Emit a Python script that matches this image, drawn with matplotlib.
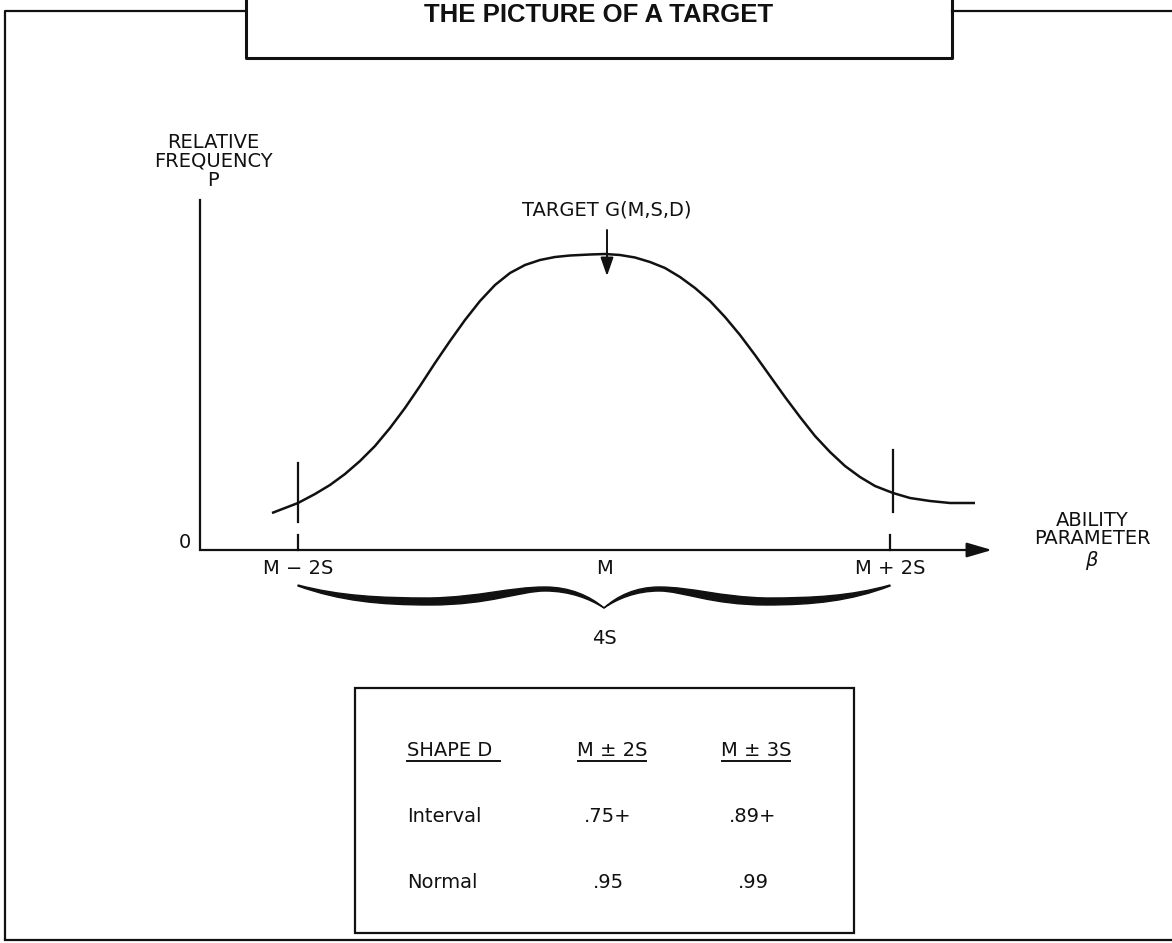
import matplotlib
matplotlib.use("Agg")
import matplotlib.pyplot as plt
from matplotlib.path import Path
from matplotlib.patches import PathPatch, Rectangle

# Curve of the target (page pixel coordinates)
curve_x = [272, 285, 298, 315, 330, 345, 360, 375, 390, 405, 420, 435, 450, 465,
           480, 495, 510, 525, 540, 555, 570, 590, 605, 620, 635, 650, 665, 680,
           695, 710, 725, 740, 755, 770, 785, 800, 815, 830, 845, 860, 875, 893,
           910, 930, 950, 975]
curve_y = [513, 508, 503, 494, 485, 474, 461, 446, 428, 408, 386, 363, 341, 320,
           301, 285, 273, 265, 260, 257, 255.5, 254.5, 254, 255, 257.5, 262, 268, 277,
           288, 301, 317, 335, 355, 376, 397, 417, 436, 452, 466, 477, 486, 493,
           498, 501, 503, 503]

# axis ticks
tick_x = [298, 605, 890]
tick_labels = ["M \u2212 2S", "M", "M + 2S"]
marker_x = [298, 893]          # tall marks crossing the curve at M +/- 2S

# table
table_cols = ["SHAPE D", "M \u00b1 2S", "M \u00b1 3S"]
table_rows = ["Interval", "Normal"]
within_2s = [".75+", ".95"]
within_3s = [".89+", ".99"]

W, H = 1172, 943
fig = plt.figure(figsize=(W / 100, H / 100), dpi=100)
ax = fig.add_axes([0, 0, 1, 1])
ax.set_xlim(0, W)
ax.set_ylim(H, 0)
ax.axis("off")

ink = "#111111"
font = "DejaVu Sans"
fs = 14

# page frame and title box
ax.plot([5, 5, 246], [940, 11, 11], color=ink, lw=1.6, solid_capstyle="butt")
ax.plot([952, W], [11, 11], color=ink, lw=1.6)
ax.plot([5, W], [940, 940], color=ink, lw=1.6)
ax.plot([246, 246, 952, 952], [0, 58, 58, 0], color=ink, lw=2.2)
ax.text(599, 22, "THE PICTURE OF A TARGET", ha="center", va="baseline",
        fontsize=18.5, fontweight="bold", family="Liberation Sans", color=ink)

# axes of the chart
ax.plot([200, 200, 980], [200, 550, 550], color=ink, lw=1.6, solid_joinstyle="miter")
ax.annotate("", xy=(992, 550), xytext=(970, 550),
            arrowprops=dict(arrowstyle="-|>,head_length=1.1,head_width=0.32",
                            mutation_scale=14, color=ink, lw=1.6, shrinkA=0, shrinkB=0))
ax.text(185, 543, "0", ha="center", va="center", fontsize=fs, family=font, color=ink)
ax.text(213, 161, "RELATIVE\nFREQUENCY\nP", ha="center", va="center", fontsize=fs,
        family=font, color=ink, linespacing=1.0)
ax.text(1092, 541, "ABILITY\nPARAMETER\n$\\beta$", ha="center", va="center", fontsize=fs,
        family=font, color=ink, linespacing=1.0)

for x, lab in zip(tick_x, tick_labels):
    if x != 605:
        ax.plot([x, x], [535, 550], color=ink, lw=1.6)
    ax.text(x, 569, lab, ha="center", va="center", fontsize=fs, family=font, color=ink)
for x in marker_x:
    ax.plot([x, x], [463, 522] if x < 600 else [450, 512], color=ink, lw=1.6)

# the curve
ax.plot(curve_x, curve_y, color=ink, lw=1.8, solid_capstyle="butt", solid_joinstyle="round")

ax.text(607, 210, "TARGET G(M,S,D)", ha="center", va="center", fontsize=fs,
        family=font, color=ink)
ax.annotate("", xy=(607, 276), xytext=(607, 230),
            arrowprops=dict(arrowstyle="-|>,head_length=0.8,head_width=0.28",
                            mutation_scale=14, color=ink, lw=1.4, shrinkA=0, shrinkB=0))


# brace under the axis: thick/thin stroke drawn as a filled outline
def half_brace(x_end, cx):
    s = (x_end - cx) / -306.0
    X = lambda d: cx - d * s
    verts = [(X(306), 586),
             (X(264), 601), (X(224), 605), (X(174), 605),
             (X(114), 605), (X(84), 591), (X(59), 591),
             (X(34), 591), (X(14), 599), (X(0), 608),
             (X(14), 596), (X(34), 587), (X(59), 587),
             (X(94), 587), (X(124), 597), (X(174), 598),
             (X(224), 598), (X(264), 596), (X(306), 585),
             (X(306), 586)]
    codes = [Path.MOVETO] + [Path.CURVE4] * 18 + [Path.CLOSEPOLY]
    return PathPatch(Path(verts, codes), facecolor=ink, edgecolor=ink, lw=1.0)


ax.add_patch(half_brace(298, 604))
ax.add_patch(half_brace(890, 604))
ax.text(604, 638, "4S", ha="center", va="center", fontsize=fs, family=font, color=ink)

# table box
ax.add_patch(Rectangle((355, 688), 499, 245, fill=False, edgecolor=ink, lw=1.6))
col_x = [407, 612, 756]
ax.text(col_x[0], 751, table_cols[0], ha="left", va="center", fontsize=fs, family=font, color=ink)
ax.text(col_x[1], 751, table_cols[1], ha="center", va="center", fontsize=fs, family=font, color=ink)
ax.text(col_x[2], 751, table_cols[2], ha="center", va="center", fontsize=fs, family=font, color=ink)
ax.plot([407, 500], [761, 761], color=ink, lw=1.4)
ax.plot([578, 646], [761, 761], color=ink, lw=1.4)
ax.plot([722, 790], [761, 761], color=ink, lw=1.4)
row_y = [817, 882]
for y, name, a, b in zip(row_y, table_rows, within_2s, within_3s):
    ax.text(col_x[0], y, name, ha="left", va="center", fontsize=fs, family=font, color=ink)
    ax.text(608, y, a, ha="center", va="center", fontsize=fs, family=font, color=ink)
    ax.text(753, y, b, ha="center", va="center", fontsize=fs, family=font, color=ink)

fig.savefig("out.png", dpi=100, facecolor="white")
